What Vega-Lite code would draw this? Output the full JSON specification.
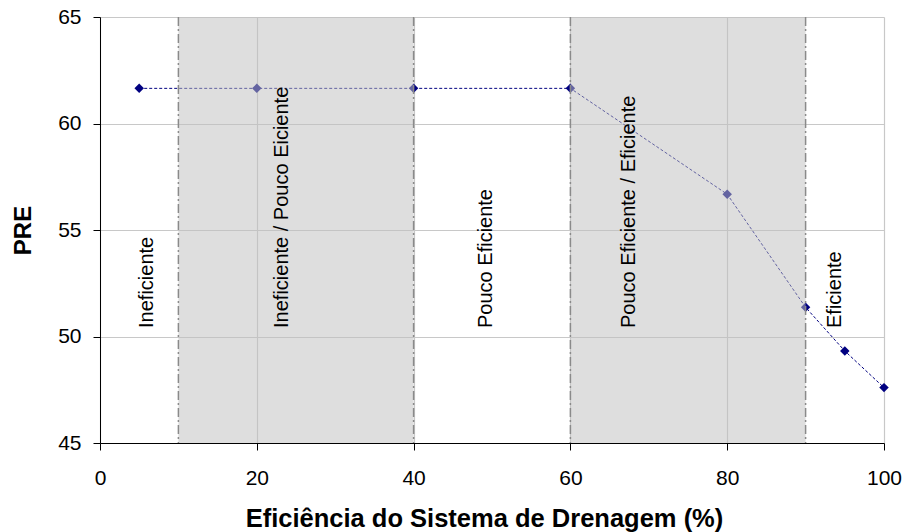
{
  "$schema": "https://vega.github.io/schema/vega-lite/v6.json",
  "width": 784,
  "height": 426,
  "autosize": {"type": "none"},
  "padding": {"left": 100, "top": 17, "right": 21, "bottom": 89},
  "background": "white",
  "config": {
    "view": {"stroke": null},
    "font": "Liberation Sans",
    "axis": {
      "labelFont": "Liberation Sans",
      "titleFont": "Liberation Sans",
      "labelFontSize": 21,
      "labelColor": "black",
      "titleColor": "black",
      "domainColor": "black",
      "tickColor": "black",
      "tickSize": 7,
      "gridColor": "#c8c8c8",
      "gridWidth": 1.2
    }
  },
  "datasets": {
    "pts": [
      {"ef": 5, "pre": 61.65},
      {"ef": 20, "pre": 61.65},
      {"ef": 40, "pre": 61.65},
      {"ef": 60, "pre": 61.65},
      {"ef": 80, "pre": 56.68},
      {"ef": 90, "pre": 51.37},
      {"ef": 95, "pre": 49.32},
      {"ef": 100, "pre": 47.6}
    ],
    "bands": [
      {"start": 10, "end": 40},
      {"start": 60, "end": 90}
    ],
    "bounds": [
      {"ef": 10}, {"ef": 40}, {"ef": 60}, {"ef": 90}
    ],
    "labels": [
      {"ef": 5.95, "pre": 50.4, "label": "Ineficiente"},
      {"ef": 23.2, "pre": 50.4, "label": "Ineficiente / Pouco Eiciente"},
      {"ef": 49.2, "pre": 50.4, "label": "Pouco Eficiente"},
      {"ef": 67.5, "pre": 50.4, "label": "Pouco Eficiente / Eficiente"},
      {"ef": 93.75, "pre": 50.4, "label": "Eficiente"}
    ]
  },
  "layer": [
    {
      "data": {"name": "pts"},
      "mark": {"type": "line", "color": "#000080", "strokeWidth": 1, "strokeDash": [3, 2]},
      "encoding": {
        "x": {
          "field": "ef", "type": "quantitative",
          "scale": {"domain": [0, 100], "nice": false},
          "axis": {
            "values": [0, 20, 40, 60, 80, 100],
            "title": "Eficiência do Sistema de Drenagem (%)",
            "titleFontSize": 25.5,
            "titleFontWeight": "bold",
            "titleBaseline": "alphabetic",
            "titleX": 384,
            "titleY": 83,
            "labelPadding": 17,
            "labelFlush": false
          }
        },
        "y": {
          "field": "pre", "type": "quantitative",
          "scale": {"domain": [45, 65], "nice": false, "zero": false},
          "axis": {
            "values": [45, 50, 55, 60, 65],
            "title": "PRE",
            "titleFontSize": 24,
            "titleFontWeight": "bold",
            "titleX": -77,
            "titleY": 213,
            "titleAngle": 270,
            "titleAlign": "center",
            "titleBaseline": "middle",
            "labelPadding": 12
          }
        }
      }
    },
    {
      "data": {"name": "pts"},
      "mark": {"type": "point", "shape": "diamond", "filled": true, "size": 90, "color": "#000080", "opacity": 1},
      "encoding": {
        "x": {"field": "ef", "type": "quantitative"},
        "y": {"field": "pre", "type": "quantitative"}
      }
    },
    {
      "data": {"name": "bands"},
      "mark": {"type": "rect", "color": "#c0c0c0", "opacity": 0.52},
      "encoding": {
        "x": {"field": "start", "type": "quantitative"},
        "x2": {"field": "end"}
      }
    },
    {
      "data": {"name": "bounds"},
      "mark": {"type": "rule", "color": "#8a8a8a", "strokeWidth": 1.5, "strokeDash": [9, 3, 2, 3]},
      "encoding": {
        "x": {"field": "ef", "type": "quantitative"}
      }
    },
    {
      "data": {"name": "labels"},
      "mark": {"type": "text", "angle": 270, "align": "left", "baseline": "middle", "fontSize": 20, "font": "Liberation Sans", "color": "black"},
      "encoding": {
        "x": {"field": "ef", "type": "quantitative"},
        "y": {"field": "pre", "type": "quantitative"},
        "text": {"field": "label"}
      }
    }
  ]
}
